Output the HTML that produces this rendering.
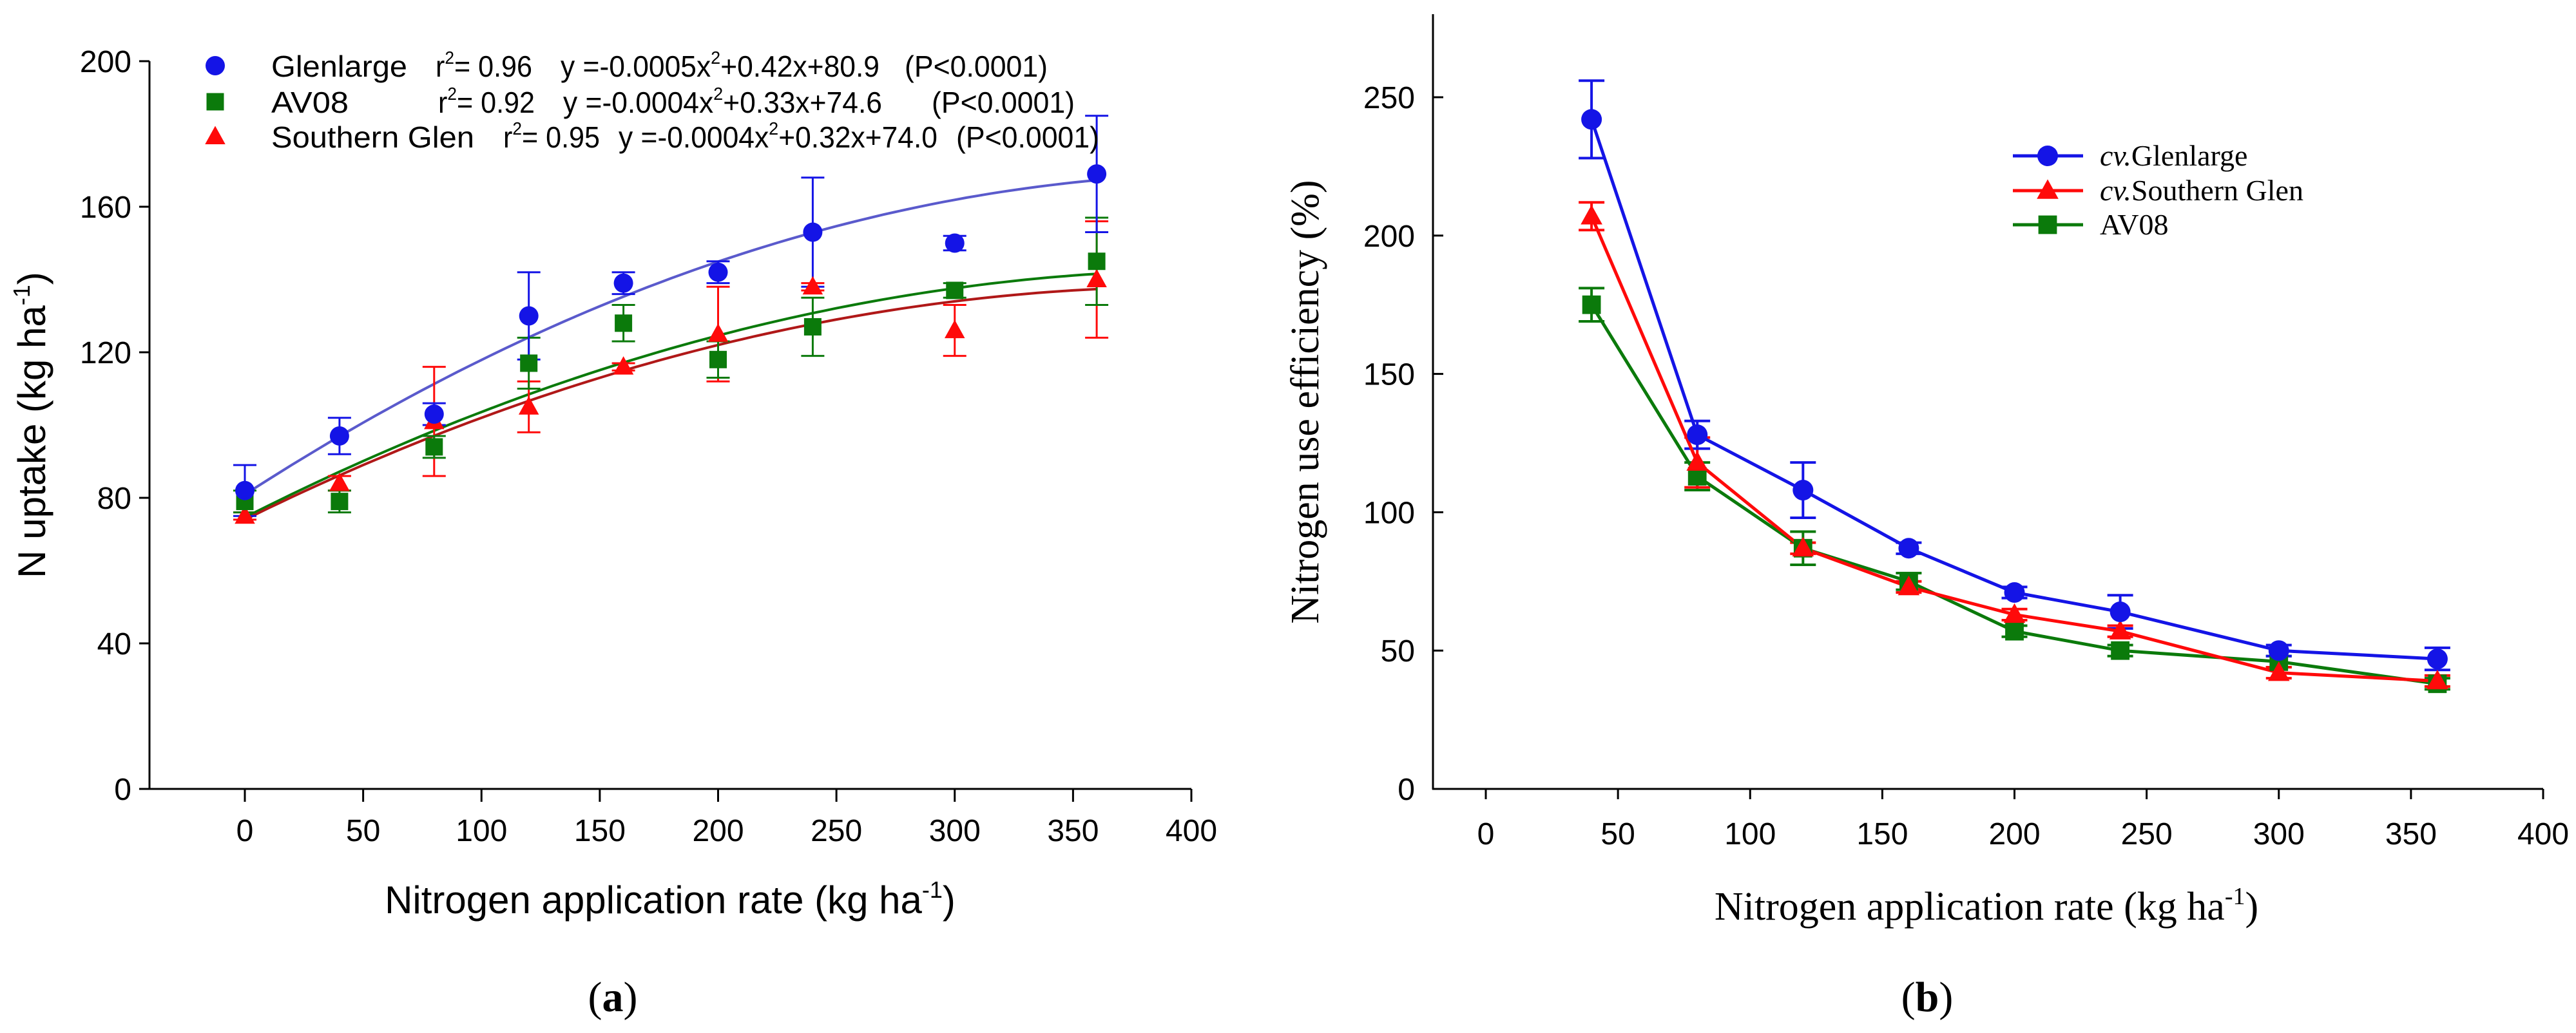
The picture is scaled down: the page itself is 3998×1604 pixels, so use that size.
<!DOCTYPE html>
<html><head><meta charset="utf-8"><style>
body{margin:0;background:#fff}
svg{display:block}
.s{font-family:"Liberation Sans",sans-serif}
.t{font-family:"Liberation Serif",serif}
</style></head><body>
<svg id="svg" width="3998" height="1604" viewBox="0 0 3998 1604">
<g id="A"></g>
<g id="B"></g>
</svg>
<script>
const NS='http://www.w3.org/2000/svg';
// ---- chart a data
const xA=[0,40,80,120,160,200,240,300,360];
const gA=[82,97,103,130,139,142,153,150,169];
const gAerr=[7,5,3,12,3,3,15,2,16];
const vA=[79,79,94,117,128,118,127,137,145];
const vAerr=[3,3,3,7,5,5,8,2,12];
const sA=[75,84,101,105,116,125,138,126,140];
const sAerr=[1,2,15,7,1,13,1,7,16];
const coefG=[-0.0005,0.42,80.9];
const coefV=[-0.0004,0.33,74.6];
const coefS=[-0.0004,0.32,74.0];
const ticksAx=[0,50,100,150,200,250,300,350,400];
const ticksAy=[0,40,80,120,160,200];
// ---- chart b data
const xB=[40,80,120,160,200,240,300,360];
const gB=[242,128,108,87,71,64,50,47];
const gBerr=[14,5,10,2,2,6,2,4];
const sB=[207,118,87,73,63,57,42,39];
const sBerr=[5,9,2,2,2,2,2,2];
const vB=[175,113,87,75,57,50,46,38];
const vBerr=[6,5,6,3,2,2,2,2];
const ticksBx=[0,50,100,150,200,250,300,350,400];
const ticksBy=[0,50,100,150,200,250];

function el(p,tag,a,txt){const e=document.createElementNS(NS,tag);for(const k in a)e.setAttribute(k,a[k]);if(txt!=null)e.textContent=txt;p.appendChild(e);return e;}
const BLUE='#1414e6',GREEN='#0b7a0b',RED='#ff0a0a';
function marker(p,type,cx,cy,r,c){
  let m;
  if(type==='c')m=el(p,'circle',{cx:cx,cy:cy,r:r,fill:c});
  else if(type==='s')m=el(p,'rect',{x:cx-r*0.9,y:cy-r*0.9,width:r*1.8,height:r*1.8,fill:c});
  else m=el(p,'polygon',{points:`${cx},${cy-r*1.1} ${cx+r*1.05},${cy+r*0.8} ${cx-r*1.05},${cy+r*0.8}`,fill:c});
  
  
  return m;
}
function errbar(p,x,y1,y2,c,w,cap){
  const g=el(p,'g',{stroke:c,'stroke-width':w});
  
  
  el(g,'line',{x1:x,y1:y1,x2:x,y2:y2});
  el(g,'line',{x1:x-cap,y1:y1,x2:x+cap,y2:y1});
  el(g,'line',{x1:x-cap,y1:y2,x2:x+cap,y2:y2});
}

// ===== Chart A
(function(){
const G=document.getElementById('A');
const X=v=>380+(v/400)*(1849-380);
const Y=v=>1225-(v/200)*(1225-95);
const ax=el(G,'g',{stroke:'#000','stroke-width':3,fill:'none'});

el(ax,'line',{x1:232,y1:95,x2:232,y2:1226});
el(ax,'line',{x1:231,y1:1225,x2:1849,y2:1225});
ticksAy.forEach(t=>{el(ax,'line',{x1:216,y1:Y(t),x2:232,y2:Y(t)});
 const tx=el(G,'text',{x:204,y:Y(t)+17,'text-anchor':'end','font-size':48,class:'s'},t);
 });
ticksAx.forEach(t=>{el(ax,'line',{x1:X(t),y1:1225,x2:X(t),y2:1245});
 const tx=el(G,'text',{x:X(t),y:1306,'text-anchor':'middle','font-size':48,class:'s'},t);
 });
const yt=el(G,'text',{x:0,y:0,transform:'translate(70,660) rotate(-90)','text-anchor':'middle','font-size':60,class:'s'});

yt.innerHTML='N uptake (kg ha<tspan dy="-24" font-size="36">-1</tspan><tspan dy="24">)</tspan>';
const xt=el(G,'text',{x:1040,y:1418,'text-anchor':'middle','font-size':60,class:'s'});

xt.innerHTML='Nitrogen application rate (kg ha<tspan dy="-24" font-size="36">-1</tspan><tspan dy="24">)</tspan>';
const lab=el(G,'text',{x:951,y:1570,'text-anchor':'middle','font-size':66,class:'t'});

lab.innerHTML='(<tspan font-weight="bold">a</tspan>)';
// curves
[[coefV,GREEN],[coefS,'#b01818'],[coefG,'#5a5acc']].forEach(([c,col])=>{
 let d='';for(let x=0;x<=360;x+=5){const y=c[0]*x*x+c[1]*x+c[2];d+=(x?'L':'M')+X(x).toFixed(1)+','+Y(y).toFixed(1);}
 const p=el(G,'path',{d:d,fill:'none',stroke:col,'stroke-width':4});
 });
const series=[[sA,sAerr,RED,'t'],[vA,vAerr,GREEN,'s'],[gA,gAerr,BLUE,'c']];
series.forEach(([ys,es,col,t])=>{ys.forEach((y,i)=>{errbar(G,X(xA[i]),Y(y+es[i]),Y(y-es[i]),col,3,18);});});
series.forEach(([ys,es,col,t])=>{ys.forEach((y,i)=>marker(G,t,X(xA[i]),Y(y),15,col));});
// legend
const rows=[['c',BLUE,102,'Glenlarge',211,676,'0.96',870,'0.0005','0.42','80.9',1404],
 ['s',GREEN,158,'AV08',120,680,'0.92',874,'0.0004','0.33','74.6',1446],
 ['t',RED,212,'Southern Glen',315,781,'0.95',960,'0.0004','0.32','74.0',1484]];
const LA={lengthAdjust:'spacingAndGlyphs'};
rows.forEach(r=>{
 const lg=el(G,'g',{class:'s','font-size':46});
 
 marker(lg,r[0],334,r[2],15,r[1]);
 el(lg,'text',Object.assign({x:421,y:r[2]+17,textLength:r[4]},LA),r[3]);
 el(lg,'text',Object.assign({x:r[5],y:r[2]+17,textLength:150},LA)).innerHTML='r<tspan dy="-20" font-size="28">2</tspan><tspan dy="20">= '+r[6]+'</tspan>';
 el(lg,'text',Object.assign({x:r[7],y:r[2]+17,textLength:495},LA)).innerHTML='y =-'+r[8]+'x<tspan dy="-20" font-size="28">2</tspan><tspan dy="20">+'+r[9]+'x+'+r[10]+'</tspan>';
 el(lg,'text',Object.assign({x:r[11],y:r[2]+17,textLength:222},LA),'(P<0.0001)');
});
})();

// ===== Chart B
(function(){
const G=document.getElementById('B');
const X=v=>2306+(v/400)*(3947-2306);
const Y=v=>1225-(v/250)*(1225-151);
const ax=el(G,'g',{stroke:'#000','stroke-width':3,fill:'none'});

el(ax,'line',{x1:2224,y1:22,x2:2224,y2:1226});
el(ax,'line',{x1:2223,y1:1225,x2:3947,y2:1225});
ticksBy.forEach(t=>{el(ax,'line',{x1:2224,y1:Y(t),x2:2240,y2:Y(t)});
 const tx=el(G,'text',{x:2196,y:Y(t)+17,'text-anchor':'end','font-size':48,class:'s'},t);
 });
ticksBx.forEach(t=>{el(ax,'line',{x1:X(t),y1:1225,x2:X(t),y2:1241});
 const tx=el(G,'text',{x:X(t),y:1311,'text-anchor':'middle','font-size':48,class:'s'},t);
 });
const yt=el(G,'text',{x:0,y:0,transform:'translate(2046,624) rotate(-90)','text-anchor':'middle','font-size':62,class:'t'},'Nitrogen use efficiency (%)');

const xt=el(G,'text',{x:3083,y:1428,'text-anchor':'middle','font-size':62,class:'t'});

xt.innerHTML='Nitrogen application rate (kg ha<tspan dy="-24" font-size="38">-1</tspan><tspan dy="24">)</tspan>';
const lab=el(G,'text',{x:2991,y:1570,'text-anchor':'middle','font-size':66,class:'t'});

lab.innerHTML='(<tspan font-weight="bold">b</tspan>)';
const series=[[vB,vBerr,GREEN,'s'],[sB,sBerr,RED,'t'],[gB,gBerr,BLUE,'c']];
series.forEach(([ys,es,col])=>{ys.forEach((y,i)=>errbar(G,X(xB[i]),Y(y+es[i]),Y(y-es[i]),col,4,20));});
series.forEach(([ys,es,col])=>{
 const p=el(G,'polyline',{points:ys.map((y,i)=>X(xB[i])+','+Y(y)).join(' '),fill:'none',stroke:col,'stroke-width':5});
 });
series.forEach(([ys,es,col,t])=>{ys.forEach((y,i)=>marker(G,t,X(xB[i]),Y(y),16,col));});
const rows=[['c',BLUE,242,'cv.','Glenlarge'],['t',RED,296,'cv.','Southern Glen'],['s',GREEN,349,'','AV08']];
rows.forEach(r=>{
 const lg=el(G,'g',{class:'t','font-size':46});
 
 el(lg,'line',{x1:3124,y1:r[2],x2:3233,y2:r[2],stroke:r[1],'stroke-width':5});
 marker(lg,r[0],3178,r[2],16,r[1]);
 el(lg,'text',{x:3259,y:r[2]+15}).innerHTML='<tspan font-style="italic">'+r[3]+'</tspan>'+r[4];
});
})();
</script>
</body></html>
